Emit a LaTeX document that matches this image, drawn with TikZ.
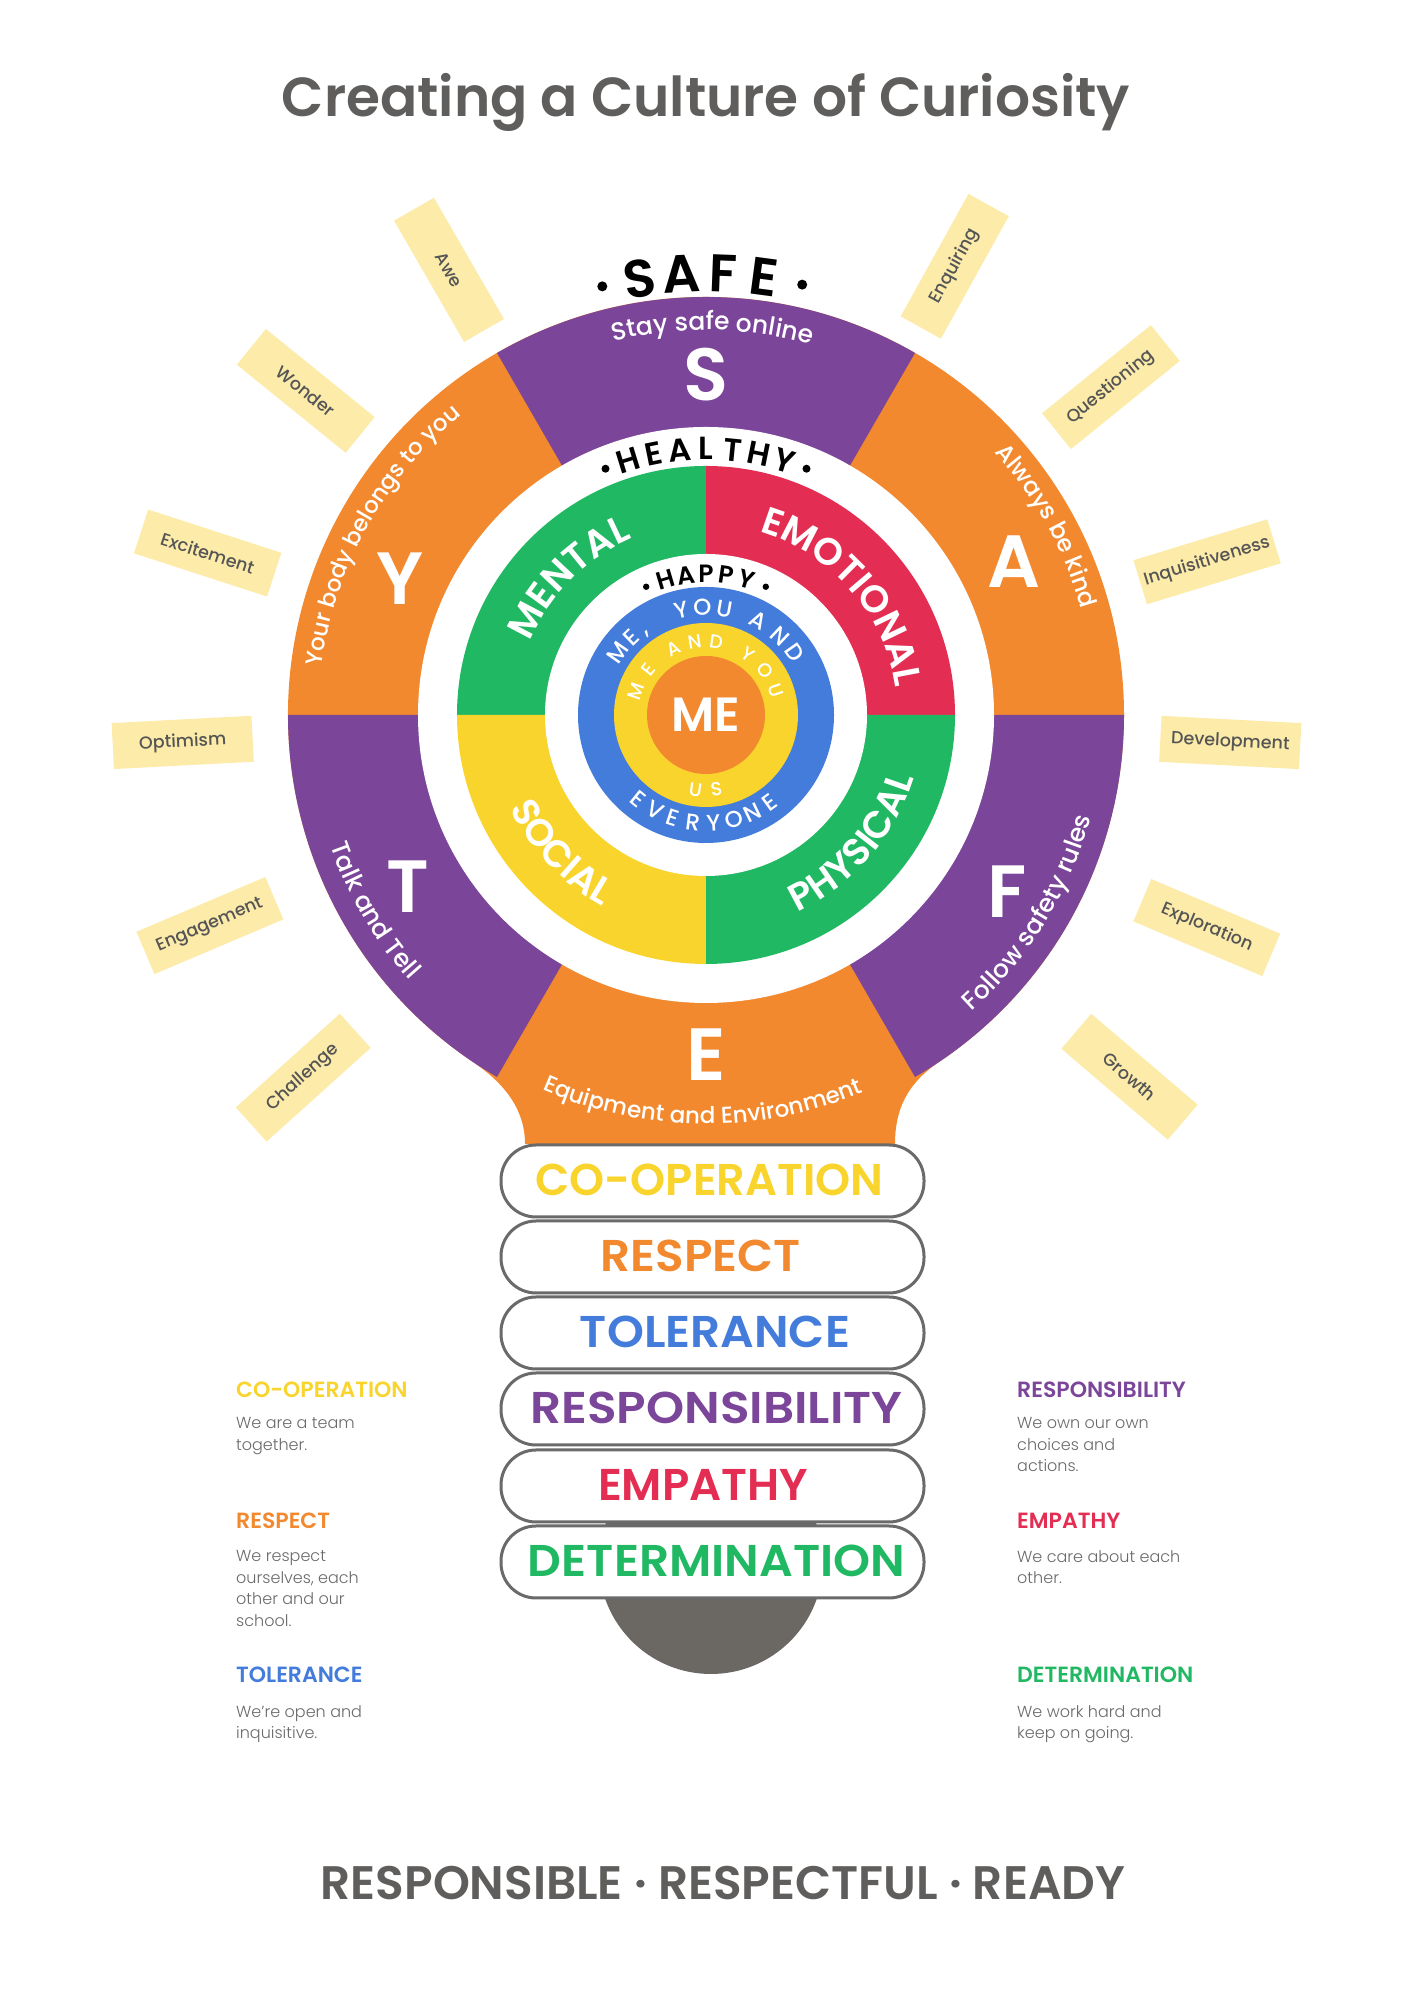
\documentclass[tikz,border=0pt]{standalone}
\usepackage{fontspec}
\usepackage{graphicx}
\setmainfont{Poppins}
\newfontfamily\pmed{Poppins}[UprightFont=* Medium]
\newfontfamily\psemi{Poppins}[UprightFont=* SemiBold]
\newfontfamily\plight{Poppins}[UprightFont=* Light]
\usetikzlibrary{decorations.text}
\definecolor{cpurple}{HTML}{7B4599}
\definecolor{corange}{HTML}{F2892F}
\definecolor{cgreen}{HTML}{20B862}
\definecolor{cred}{HTML}{E42D52}
\definecolor{cyellow}{HTML}{F9D42C}
\definecolor{cblue}{HTML}{437CDA}
\definecolor{cray}{HTML}{FCEBA9}
\definecolor{craytext}{HTML}{555555}
\definecolor{cgray}{HTML}{5F5E5C}
\definecolor{ctext}{HTML}{6A6A6A}
\definecolor{cbase}{HTML}{6B6864}
\definecolor{cpill}{HTML}{6A6A6A}
\newcommand\fs[1]{\fontsize{#1}{#1}\selectfont}
\newcommand\quadfont{\psemi\fs{38}}
% #1 text, #2 start angle, #3 end angle, #4 radius, #5 format
\newcommand\arctext[5]{%
  \path[decorate,decoration={text along path,text align=center,text color=white,text={|#5|#1}}]
    ([shift={(#2:#4)}]C) arc[start angle=#2,end angle=#3,radius=#4];}
\begin{document}
\begin{tikzpicture}[x=1pt,y=1pt,
  ray/.style={fill=cray,minimum width=140,minimum height=46,inner sep=0,font=\pmed\fs{17.5},text=craytext},
  bigletter/.style={font=\psemi\fs{74},text=white,inner sep=0},
  pill/.style={draw=cpill,line width=3,fill=white,rounded corners=35,minimum width=423,minimum height=72,inner sep=0},
  pilltext/.style={font=\psemi\fs{44.5},inner sep=0},
  head/.style={font=\psemi\fs{22},anchor=west,inner sep=0},
  body/.style={font=\plight\fontsize{16}{21.7}\selectfont,text=ctext,align=left,anchor=north west,inner sep=0},
  arcletter/.style={inner sep=0,anchor=base},
]
\useasboundingbox (0,0) rectangle (1414,2000);
\fill[white] (0,0) rectangle (1414,2000);
\coordinate (C) at (706,1285);

% title
\node[font=\psemi\fs{55},text=cgray,anchor=base,inner sep=0] (title) at (706,1883) {Creating a Culture of Curiosity};

% rays
\foreach \w/\a/\r [count=\i] in {Awe/120/514,Wonder/141/515,Excitement/162/524,Optimism/183/524,Engagement/203/539,Challenge/222/542}{
  \node[ray,rotate=\a-180] (rayL\i) at ([shift={(\a:\r)}]C) {\w};}
\foreach \w/\a/\r [count=\i] in {Enquiring/61/513,Questioning/39/521,Inquisitiveness/17/524,Development/-3/525,Exploration/-23/544,Growth/-40.5/557}{
  \node[ray,rotate=\a] (rayR\i) at ([shift={(\a:\r)}]C) {\w};}

% bulb silhouette
\fill[corange] (895,856) .. controls (895,890) and (906.5,916.1) .. (939.7,938.5)
  arc[start angle=-56,end angle=236,radius=418]
  .. controls (505.5,916.1) and (525,890) .. (525,856) -- cycle;
% purple segments
\foreach \s/\e in {60/120,180/240,-60/0}{
  \fill[cpurple] (C) -- ([shift={(\s:418)}]C) arc[start angle=\s,end angle=\e,radius=418] -- cycle;}
\fill[white] (C) circle (288);
% healthy quadrants
\fill[cgreen] (C) -- ([shift={(90:249)}]C) arc[start angle=90,end angle=180,radius=249] -- cycle;
\fill[cred] (C) -- ([shift={(0:249)}]C) arc[start angle=0,end angle=90,radius=249] -- cycle;
\fill[cyellow] (C) -- ([shift={(180:249)}]C) arc[start angle=180,end angle=270,radius=249] -- cycle;
\fill[cgreen] (C) -- ([shift={(270:249)}]C) arc[start angle=270,end angle=360,radius=249] -- cycle;
\fill[white] (C) circle (161);
\fill[cblue] (C) circle (128);
\fill[cyellow] (C) circle (92);
\fill[corange] (C) circle (59);

% big letters
\node[bigletter] (letS) at ([shift={(90:340)}]C) {S};
\node[bigletter] (letY) at ([shift={(156:335)}]C) {Y};
\node[bigletter] (letA) at ([shift={(26.5:344)}]C) {A};
\node[bigletter] (letT) at ([shift={(210:344)}]C) {T};
\node[bigletter] (letF) at ([shift={(-30.5:349)}]C) {F};
\node[bigletter] (letE) at ([shift={(270:340)}]C) {E};

% segment texts
\arctext{Stay safe online}{124}{54}{385}{\pmed\fs{25}}
\arctext{Your body belongs to you}{186}{116}{387}{\pmed\fs{23}}
\arctext{Always be kind}{64}{-6}{390}{\pmed\fs{24}}
\arctext{Talk and Tell}{180}{241}{398}{\pmed\fs{25}}
\arctext{Follow safety rules}{-66}{3}{398}{\pmed\fs{25}}
\arctext{Equipment and Environment}{225}{314}{409}{\pmed\fs{23}}

% quadrant labels
\arctext{MENTAL}{175}{95}{191}{\quadfont}
\arctext{EMOTIONAL}{85}{-3}{191}{\quadfont}
\arctext{SOCIAL}{183}{264}{217}{\quadfont}
\arctext{PHYSICAL}{-85}{3}{217}{\quadfont}

% SAFE
\foreach \ch/\a [count=\i] in {S/98.6,A/93.2,F/87.8,E/82.4}{
  \node[arcletter,font=\psemi\fs{53},rotate=\a-90] (safe\i) at ([shift={(\a:423)}]C) {\ch};}
\fill ([shift={(103.6:441)}]C) circle (5);
\fill ([shift={(77.4:441)}]C) circle (5);
% HEALTHY
\foreach \ch/\a [count=\i] in {H/107.1,E/101.4,A/95.7,L/90,T/84.3,H/78.6,Y/72.9}{
  \node[arcletter,font=\psemi\fs{32},rotate=\a-90] (healthy\i) at ([shift={(\a:255)}]C) {\ch};}
\fill ([shift={(112.2:266)}]C) circle (4);
\fill ([shift={(67.8:266)}]C) circle (4);
% HAPPY
\foreach \ch/\a [count=\i] in {H/106.6,A/98.3,P/90,P/81.7,Y/73.4}{
  \node[arcletter,font=\psemi\fs{25},rotate=\a-90] (happy\i) at ([shift={(\a:132.5)}]C) {\ch};}
\fill ([shift={(115:141.5)}]C) circle (3.2);
\fill ([shift={(65:141.5)}]C) circle (3.2);
% ME, YOU AND
\foreach \ch/\a [count=\i] in {M/145,E/134,{,}/126,Y/103,O/92,U/80,A/61,N/47,D/35}{
  \node[arcletter,font=\pmed\fs{23},text=white,rotate=\a-90] (meyou\i) at ([shift={(\a:100)}]C) {\ch};}
% ME AND YOU
\foreach \ch/\a [count=\i] in {M/161,E/142,A/116,N/99,D/82,Y/55,O/37,U/19}{
  \node[arcletter,font=\pmed\fs{19},text=white,rotate=\a-90] (meand\i) at ([shift={(\a:67)}]C) {\ch};}
% US
\foreach \ch/\a [count=\i] in {U/262,S/278}{
  \node[arcletter,font=\pmed\fs{19},text=white,rotate=\a+90] (us\i) at ([shift={(\a:82)}]C) {\ch};}
% EVERYONE
\foreach \ch/\a [count=\i] in {E/231,V/242,E/252,R/263,Y/274,O/285,N/295.5,E/306}{
  \node[arcletter,font=\pmed\fs{23},text=white,rotate=\a+90] (every\i) at ([shift={(\a:116)}]C) {\ch};}
% ME
\node[font=\psemi\fs{48},text=white,inner sep=0] (me) at (C) {ME};

% base and pills
\fill[cbase] (711,438) circle (112);
\foreach \w/\c/\x/\y/\W [count=\i] in {CO-OPERATION/cyellow/709.5/819/348,RESPECT/corange/700.6/743/200,TOLERANCE/cblue/715/667/270,RESPONSIBILITY/cpurple/716.5/591/372,EMPATHY/cred/703/514/210,DETERMINATION/cgreen/716.5/438/377}{
  \node[pill] (pill\i) at (712.5,\y) {};
  \node[pilltext,text=\c] (pt\i) at (\x,\y+1) {\resizebox{\W pt}{\height}{\w}};}

% side descriptions
\node[head,text=cyellow] (h1) at (236,610) {CO-OPERATION};
\node[body] (b1) at (236,583) {We are a team\\together.};
\node[head,text=corange] (h2) at (236,479) {RESPECT};
\node[body] (b2) at (236,450) {We respect\\ourselves, each\\other and our\\school.};
\node[head,text=cblue] (h3) at (236,325) {TOLERANCE};
\node[body] (b3) at (236,295) {We’re open and\\inquisitive.};
\node[head,text=cpurple] (h4) at (1017,610) {RESPONSIBILITY};
\node[body] (b4) at (1017,583) {We own our own\\choices and\\actions.};
\node[head,text=cred] (h5) at (1017,479) {EMPATHY};
\node[body] (b5) at (1017,450) {We care about each\\other.};
\node[head,text=cgreen] (h6) at (1017,325) {DETERMINATION};
\node[body] (b6) at (1017,295) {We work hard and\\keep on going.};

% footer
\node[font=\psemi\fs{47},text=cgray,anchor=base,inner sep=0] (footer) at (723,100) {RESPONSIBLE · RESPECTFUL · READY};
\end{tikzpicture}
\end{document}
